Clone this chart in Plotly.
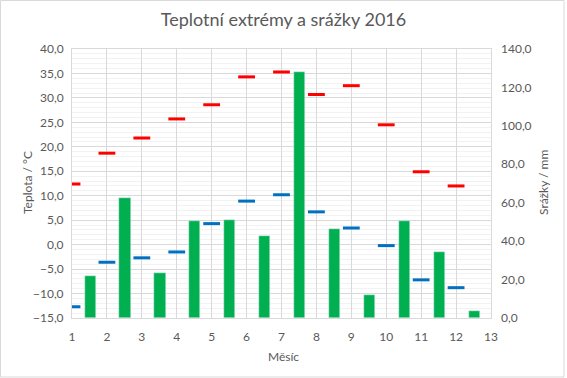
import plotly.graph_objects as go

months = list(range(1, 13))
t_max = [12.4, 18.7, 21.8, 25.7, 28.6, 34.3, 35.3, 30.7, 32.5, 24.5, 14.9, 12.0]
t_min = [-12.7, -3.6, -2.7, -1.5, 4.3, 8.9, 10.2, 6.7, 3.4, -0.2, -7.2, -8.8]
rain = [21.9, 62.4, 23.4, 50.5, 51.0, 42.7, 128.0, 46.3, 12.0, 50.5, 34.3, 3.6]

FONT = "Lato, Carlito, Calibri, sans-serif"
GREY = "#595959"

W, H = 567, 378
L, R, T, B = 72, 76, 49, 60
pw, ph = W - L - R, H - T - B

fig = go.Figure()
fig.add_trace(go.Bar(x=months, y=rain, yaxis="y2", marker_color="#00B050",
                     width=0.32, offset=0.36, name="Srážky"))
fig.add_trace(go.Scatter(x=months, y=t_max, mode="markers", name="Max",
                         marker=dict(symbol="line-ew", size=12,
                                     line=dict(color="#FF0000", width=3))))
fig.add_trace(go.Scatter(x=months, y=t_min, mode="markers", name="Min",
                         marker=dict(symbol="line-ew", size=12,
                                     line=dict(color="#0070C0", width=3))))

fig.update_layout(
    width=W, height=H,
    margin=dict(l=L, r=R, t=T, b=B),
    paper_bgcolor="white", plot_bgcolor="white",
    separators=", ",
    showlegend=False,
    font=dict(family=FONT, size=12, color=GREY),
    title=dict(text="Teplotní extrémy a srážky 2016", x=0.5, xanchor="center",
               y=1 - 20 / H, yanchor="middle",
               font=dict(family=FONT, size=18, color=GREY)),
    xaxis=dict(range=[1, 13], dtick=1, tick0=1, showgrid=True, gridcolor="#D9D9D9",
               gridwidth=1, showline=True, linecolor="#D9D9D9", mirror=True,
               zeroline=False, ticks="", ticklabelstandoff=8,
               tickfont=dict(size=12, color=GREY)),
    yaxis=dict(range=[-15, 40], dtick=5, tick0=-15, tickformat=".1f",
               showgrid=True, gridcolor="#D9D9D9", gridwidth=1,
               minor=dict(dtick=1, showgrid=True, gridcolor="#F2F2F2", gridwidth=1),
               showline=True, linecolor="#D9D9D9", mirror=True,
               zeroline=False, ticks="", ticklabelstandoff=5,
               tickfont=dict(size=12, color=GREY)),
    yaxis2=dict(range=[0, 140], dtick=20, tickformat=".1f", overlaying="y", side="right",
                showgrid=False, zeroline=False, ticks="", ticklabelstandoff=9,
                tickfont=dict(size=12, color=GREY)),
    bargap=0,
)

fig.add_annotation(text="Teplota / °C", xref="paper", yref="paper",
                   x=(27 - L) / pw, y=(H - B - 183) / ph, textangle=-90,
                   showarrow=False, font=dict(size=12, color=GREY),
                   xanchor="center", yanchor="middle")
fig.add_annotation(text="Srážky / mm", xref="paper", yref="paper",
                   x=(543 - L) / pw, y=(H - B - 183) / ph, textangle=-90,
                   showarrow=False, font=dict(size=12, color=GREY),
                   xanchor="center", yanchor="middle")
fig.add_annotation(text="Měsíc", xref="paper", yref="paper",
                   x=(283 - L) / pw, y=(H - B - 356) / ph,
                   showarrow=False, font=dict(size=12, color=GREY),
                   xanchor="center", yanchor="middle")

fig.add_shape(type="rect", xref="paper", yref="paper",
              x0=(0.5 - L) / pw, x1=(564 - L) / pw,
              y0=(H - B - 377) / ph, y1=(H - B - 0.5) / ph,
              line=dict(color="#D9D9D9", width=1), fillcolor="rgba(0,0,0,0)", layer="below")

fig.write_html("out.html", config={"displayModeBar": False},
               post_script="document.body.style.margin='0';")
